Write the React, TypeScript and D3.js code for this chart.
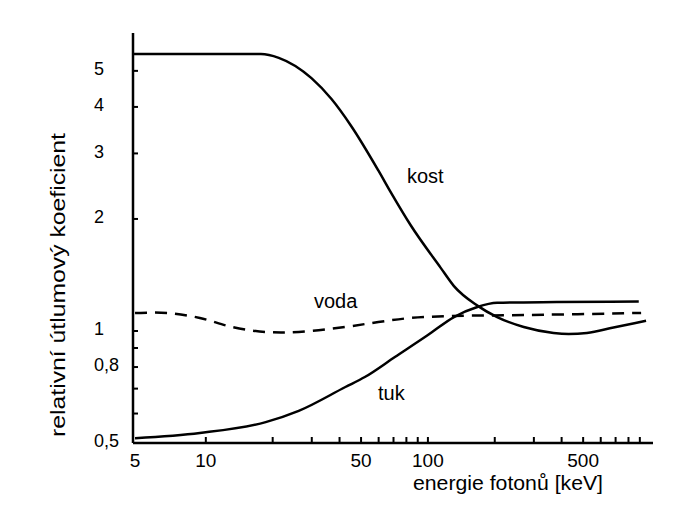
//@ts-nocheck
import * as d3 from 'd3';

// energie [keV], relativní koeficient
const kost = [
  [4.75, 5.55], [17.7, 5.55], [21.3, 5.42], [29.9, 4.78], [36.8, 4.2], [45.2, 3.55],
  [59.8, 2.7], [68.3, 2.35], [83.8, 1.92], [114, 1.48], [131, 1.32], [167, 1.17],
  [205, 1.09], [270, 1.025], [368, 0.988], [430, 0.982], [520, 0.988], [685, 1.022], [960, 1.065],
];
const tuk = [
  [4.8, 0.515], [9.4, 0.532], [18.6, 0.569], [26.2, 0.61], [42.5, 0.707], [52, 0.752],
  [71, 0.851], [100, 0.975], [131, 1.09], [167, 1.16], [205, 1.19], [380, 1.196], [890, 1.2],
];
const voda = [
  [4.8, 1.118], [6.7, 1.118], [9.4, 1.084], [13.1, 1.025], [18.6, 0.994], [26.2, 0.994],
  [42.5, 1.025], [59.8, 1.057], [83.8, 1.084], [126, 1.097], [288, 1.104], [912, 1.118],
];

const xTickLabels = [5, 10, 50, 100, 500];
const xMinorTicks = [20, 30, 40, 60, 70, 80, 90, 200, 300, 400, 600, 700, 800, 900];
const yTickLabels = [0.5, 0.8, 1, 2, 3, 4, 5];
const yMinorTicks = [0.6, 0.7, 0.9];

const font = '"Liberation Sans", Arial, sans-serif';

export default function App() {
  const W = 679, H = 524;
  const x = d3.scaleLog().domain([4.7, 1000]).range([133, 650]);
  const y = d3.scaleLog().domain([0.5, 6.32]).range([443, 33]);

  const solid = d3.line().x(d => x(d[0])).y(d => y(d[1])).curve(d3.curveMonotoneX);
  const dashed = d3.line().x(d => x(d[0])).y(d => y(d[1])).curve(d3.curveCatmullRom.alpha(0.5));

  const fmt = v => String(v).replace('.', ',');

  return (
    <svg width={W} height={H} style={{ position: 'absolute', left: 0, top: 0, background: '#fff' }}>
      {/* axes */}
      <line x1={133} x2={133} y1={y(6.32)} y2={y(0.5)} stroke="#000" strokeWidth={2.5} />
      <line x1={133} x2={653} y1={y(0.5)} y2={y(0.5)} stroke="#000" strokeWidth={2.5} />

      {/* y ticks */}
      {[...yTickLabels.filter(v => v !== 0.5), ...yMinorTicks].map(v => (
        <line key={'yt' + v} x1={133} x2={138} y1={y(v)} y2={y(v)} stroke="#000" strokeWidth={2} />
      ))}
      {yTickLabels.map(v => (
        <text key={'yl' + v} x={94} y={y(v) - 2} dy="0.35em" textAnchor="start"
          fontFamily={font} fontSize={18}>{fmt(v)}</text>
      ))}

      {/* x ticks */}
      {[...xTickLabels.filter(v => v !== 5), ...xMinorTicks].map(v => (
        <line key={'xt' + v} x1={x(v)} x2={x(v)} y1={443} y2={437} stroke="#000" strokeWidth={2} />
      ))}
      {xTickLabels.map(v => (
        <text key={'xl' + v} x={v === 5 ? 135 : x(v)} y={467} textAnchor="middle"
          fontFamily={font} fontSize={19}>{v}</text>
      ))}

      {/* curves */}
      <path d={solid(kost)} fill="none" stroke="#000" strokeWidth={2.5} />
      <path d={solid(tuk)} fill="none" stroke="#000" strokeWidth={2.5} />
      <path d={dashed(voda)} fill="none" stroke="#000" strokeWidth={2.5} strokeDasharray="12 8" />

      {/* curve labels */}
      <text x={407} y={183} fontFamily={font} fontSize={20}>kost</text>
      <text x={314} y={308} fontFamily={font} fontSize={20}>voda</text>
      <text x={378} y={400} fontFamily={font} fontSize={20}>tuk</text>

      {/* axis titles */}
      <text x={413} y={490} fontFamily={font} fontSize={20} textLength={190} lengthAdjust="spacingAndGlyphs">
        energie fotonů [keV]
      </text>
      <text transform="translate(65,285) rotate(-90)" textAnchor="middle"
        fontFamily={font} fontSize={20} textLength={304} lengthAdjust="spacingAndGlyphs">
        relativní útlumový koeficient
      </text>
    </svg>
  );
}
